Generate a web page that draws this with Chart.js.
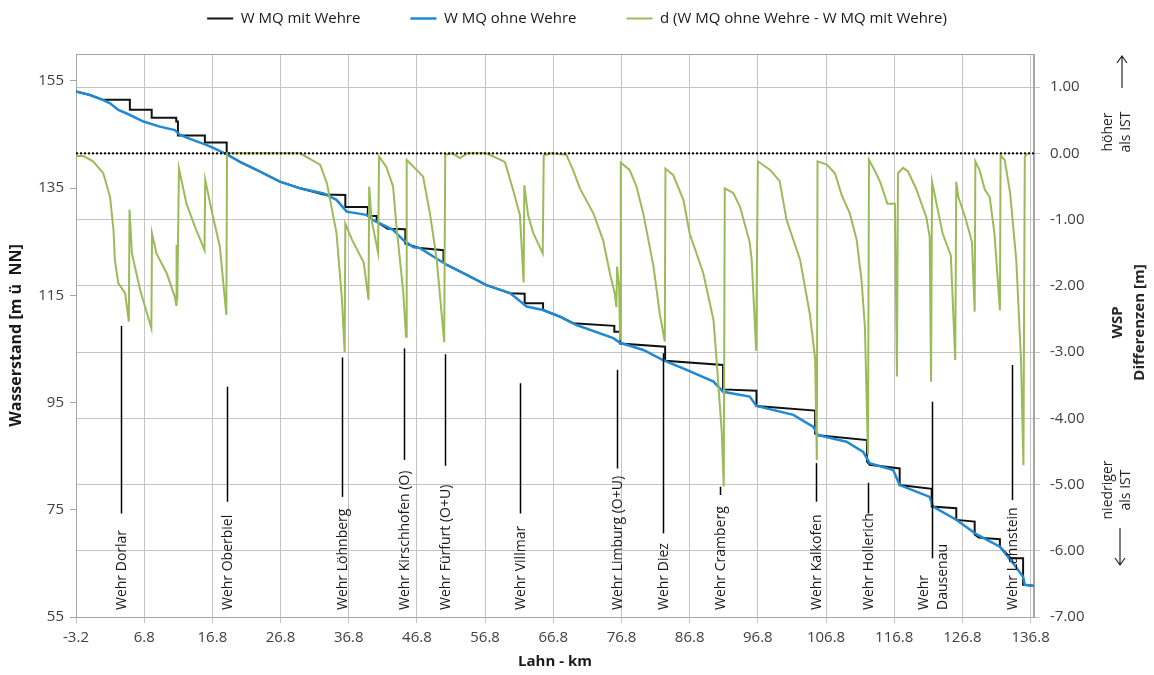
<!DOCTYPE html>
<html>
<head>
<meta charset="utf-8">
<script src="https://cdn.jsdelivr.net/npm/chart.js@4.4.1/dist/chart.umd.min.js"></script>
<style>
  html, body { margin: 0; padding: 0; background: #fff; }
</style>
</head>
<body>
<canvas id="lahnChart" width="1154" height="675"></canvas>
<script>
// Achsen-Ticks
const kmTicks = [-3.2, 6.8, 16.8, 26.8, 36.8, 46.8, 56.8, 66.8, 76.8, 86.8, 96.8, 106.8, 116.8, 126.8, 136.8];
const wspTicks = [55, 75, 95, 115, 135, 155];
const diffTicks = [-7, -6, -5, -4, -3, -2, -1, 0, 1];

// W MQ mit Wehre (Wasserstand m ü NN)
const mitKm = [
  -3.2, -1.15, 0.8, 4.7, 4.7, 7.9, 7.9, 11.5, 11.5, 11.75,
  11.75, 15.7, 15.7, 18.9, 18.9, 20.85, 23.8, 26.7, 29.65, 33.1,
  36.3, 36.3, 39.6, 39.6, 40.9, 40.9, 42.5, 45.1, 45.1, 47.25,
  50.7, 50.7, 51.2, 54.1, 57.0, 60.45, 62.6, 62.6, 65.3, 65.3,
  67.8, 69.7, 75.75, 75.75, 76.6, 76.6, 83.2, 83.2, 91.7, 91.7,
  96.6, 96.6, 105.2, 105.2, 105.65, 112.8, 112.8, 113.2, 117.6, 117.6,
  122.3, 122.3, 125.9, 125.9, 128.6, 128.6, 129.2, 132.3, 132.3, 133.9,
  135.7, 135.7, 137.2
];
const mitWsp = [
  153.0, 152.35, 151.45, 151.45, 149.6, 149.6, 148.1, 148.1, 147.4, 147.4,
  144.8, 144.8, 143.5, 143.5, 141.3, 139.9, 138.05, 136.2, 134.95, 133.8,
  133.7, 131.45, 131.45, 129.85, 129.8, 128.7, 127.4, 127.3, 124.6, 123.8,
  123.4, 121.1, 120.65, 118.8, 116.9, 115.4, 115.3, 113.5, 113.5, 112.25,
  111.0, 109.8, 109.3, 108.2, 108.2, 106.0, 105.4, 102.8, 102.0, 97.45,
  97.2, 94.35, 93.5, 89.2, 88.9, 88.0, 84.0, 83.4, 82.7, 79.6,
  78.9, 75.6, 75.3, 73.1, 72.8, 70.4, 69.8, 69.5, 68.1, 65.95,
  65.95, 61.0, 60.85
];

// W MQ ohne Wehre
const ohneKm = [
  -3.2, -1.15, 0.8, 1.8, 3.0, 4.25, 6.7, 9.1, 11.3, 12.05,
  14.0, 16.0, 17.4, 18.9, 20.85, 23.8, 26.7, 29.65, 33.1, 35.0,
  36.5, 39.4, 40.4, 43.3, 44.8, 46.3, 47.25, 51.2, 54.1, 57.0,
  60.45, 62.9, 65.3, 67.8, 70.2, 75.6, 76.6, 80.0, 82.9, 86.35,
  90.3, 91.7, 95.6, 96.6, 102.0, 104.9, 105.65, 109.8, 112.25, 113.2,
  116.65, 117.6, 122.0, 122.5, 125.95, 128.9, 132.3, 134.25, 135.7, 135.95,
  137.2
];
const ohneWsp = [
  153.0, 152.35, 151.4, 150.8, 149.55, 148.9, 147.4, 146.45, 145.8, 144.9,
  143.95, 143.0, 142.2, 141.3, 139.9, 138.05, 136.2, 134.95, 134.0, 132.8,
  130.6, 130.0, 129.0, 127.2, 125.3, 123.95, 123.8, 120.65, 118.8, 116.9,
  115.4, 112.9, 112.25, 111.0, 109.45, 107.0, 106.15, 104.8, 102.9, 101.1,
  98.9, 97.0, 96.1, 94.35, 92.7, 90.5, 88.9, 87.7, 85.8, 83.7,
  82.4, 79.6, 77.4, 75.6, 73.1, 70.4, 68.1, 65.0, 62.5, 61.0,
  60.85
];

// d (ohne - mit), rechte Achse
const diffKm = [
  -3.2, -2.1, -0.7, 0.8, 1.8, 2.3, 2.5, 3.0, 4.0, 4.55,
  4.65, 5.0, 6.2, 7.85, 7.95, 8.6, 10.1, 11.3, 11.5, 11.55,
  11.65, 11.9, 13.0, 14.25, 15.65, 15.75, 16.9, 17.9, 18.85, 18.95,
  29.7, 30.5, 32.6, 33.6, 35.0, 35.8, 36.2, 36.3, 37.3, 39.0,
  39.7, 39.8, 40.15, 41.1, 41.25, 42.3, 43.3, 43.8, 44.8, 45.2,
  45.3, 46.75, 47.7, 48.7, 49.7, 50.8, 50.95, 52.0, 53.1, 54.2,
  57.0, 59.7, 60.9, 61.9, 62.45, 62.55, 63.1, 63.85, 65.25, 65.4,
  66.5, 68.7, 69.7, 70.7, 72.7, 74.1, 75.1, 75.8, 76.05, 76.15,
  76.45, 76.6, 76.7, 78.0, 79.0, 80.0, 81.5, 82.4, 83.15, 83.25,
  84.4, 85.9, 86.8, 88.8, 90.3, 90.8, 91.5, 91.8, 91.95, 93.2,
  94.2, 95.6, 95.9, 96.55, 96.8, 98.6, 100.0, 101.0, 103.0, 104.4,
  105.2, 105.45, 105.55, 106.9, 108.1, 109.1, 110.3, 111.3, 112.0, 112.5,
  112.95, 113.1, 113.9, 114.8, 115.8, 116.9, 117.2, 117.35, 118.1, 118.8,
  120.0, 121.5, 122.0, 122.2, 122.35, 123.9, 125.1, 125.75, 125.9, 126.2,
  127.2, 128.2, 128.6, 128.7, 129.3, 130.1, 130.8, 131.5, 132.3, 132.4,
  133.0, 133.8, 134.7, 135.4, 135.75, 135.95, 136.3
];
const diffWert = [
  -0.04, -0.04, -0.12, -0.30, -0.66, -1.16, -1.61, -1.96, -2.11, -2.54,
  -0.85, -1.51, -2.06, -2.64, -1.21, -1.51, -1.81, -2.17, -2.29, -1.38,
  -2.22, -0.23, -0.76, -1.11, -1.46, -0.40, -0.96, -1.41, -2.44, 0.00,
  0.00, -0.05, -0.17, -0.45, -1.20, -2.20, -3.00, -1.06, -1.31, -1.65,
  -2.21, -0.50, -1.00, -1.50, -0.05, -0.20, -0.50, -1.10, -2.10, -2.77,
  -0.10, -0.25, -0.35, -0.90, -1.60, -2.85, -0.02, 0.00, -0.07, 0.00,
  0.00, -0.13, -0.55, -0.93, -1.95, -0.48, -0.93, -1.20, -1.51, -0.03,
  0.00, -0.02, -0.25, -0.53, -0.91, -1.31, -1.81, -2.11, -2.32, -1.71,
  -2.01, -2.81, -0.14, -0.25, -0.50, -0.91, -1.71, -2.41, -2.84, -0.23,
  -0.33, -0.71, -1.21, -1.81, -2.52, -3.20, -4.20, -5.03, -0.53, -0.60,
  -0.81, -1.34, -1.61, -2.98, -0.12, -0.25, -0.42, -1.00, -1.61, -2.41,
  -3.10, -4.63, -0.12, -0.17, -0.30, -0.63, -0.91, -1.31, -1.91, -2.62,
  -4.55, -0.10, -0.25, -0.45, -0.76, -0.76, -3.37, -0.30, -0.22, -0.27,
  -0.53, -0.96, -1.26, -3.45, -0.43, -1.21, -1.54, -3.12, -0.43, -0.66,
  -0.96, -1.34, -2.39, -0.12, -0.25, -0.55, -0.66, -1.21, -2.37, -0.03,
  -0.10, -0.60, -1.61, -3.12, -4.71, -0.05, 0.00
];

// Nulllinie der Differenzenachse
const nullKm = [-3.2, 137.3];
const nullWert = [0, 0];

// Wehre: Lage (km), Markierungslinie von/bis (m ü NN)
const wehrNamen = ['Wehr Dorlar', 'Wehr Oberbiel', 'Wehr Löhnberg', 'Wehr Kirschhofen (O)', 'Wehr Fürfurt (O+U)',
  'Wehr Villmar', 'Wehr Limburg (O+U)', 'Wehr Diez', 'Wehr Cramberg', 'Wehr Kalkofen', 'Wehr Hollerich',
  ['Wehr', 'Dausenau'], 'Wehr Lahnstein'];
const wehrKm = [3.35, 19.0, 35.85, 44.9, 50.9, 61.9, 76.1, 82.9, 91.2, 105.4, 113.0, 122.3, 134.1];
const wehrOben = [109.3, 97.95, 103.4, 105.1, 104.0, 98.6, 101.1, 104.2, 79.3, 83.7, 80.05, 95.15, 102.0];
const wehrUnten = [74.3, 76.5, 77.4, 84.3, 83.2, 74.3, 82.7, 70.6, 77.75, 76.5, 74.3, 65.95, 76.8];

const punkte = (xs, ys) => xs.map((x, i) => ({ x: x, y: ys[i] }));

Chart.defaults.font.family = '"Open Sans", sans-serif';
Chart.defaults.color = '#404040';

function textGedreht(ctx, zeilen, cx, cy, font, abstand, align) {
  ctx.save();
  ctx.translate(cx, cy);
  ctx.rotate(-Math.PI / 2);
  ctx.font = font;
  ctx.textAlign = align || 'center';
  ctx.textBaseline = 'middle';
  zeilen.forEach((t, j) => ctx.fillText(t, 0, (j - (zeilen.length - 1) / 2) * abstand));
  ctx.restore();
}

function pfeil(ctx, x, y1, y2) {
  const d = y2 > y1 ? -1 : 1;
  ctx.beginPath();
  ctx.moveTo(x, y1);
  ctx.lineTo(x, y2);
  ctx.moveTo(x - 5, y2 + d * 7);
  ctx.lineTo(x, y2);
  ctx.lineTo(x + 5, y2 + d * 7);
  ctx.stroke();
}

// Legende höher machen, damit die Zeichenfläche bei y=54 beginnt
const legendeHoehe = {
  id: 'legendeHoehe',
  beforeLayout(chart) {
    const lg = chart.legend;
    if (lg && !lg._gepatcht) {
      const fit = lg.fit;
      lg.fit = function () { fit.call(this); this.height = 93; };
      lg._gepatcht = true;
    }
  }
};

const deko = {
  id: 'deko',
  beforeDatasetsDraw(chart) {
    const { ctx, chartArea: a } = chart;
    ctx.save();
    ctx.strokeStyle = '#a6a6a6';
    ctx.lineWidth = 1;
    ctx.strokeRect(a.left + 0.5, a.top + 0.5, a.right - a.left - 1, a.bottom - a.top);
    ctx.restore();
  },
  afterDatasetsDraw(chart) {
    const { ctx, chartArea: a, scales: { x, y } } = chart;
    ctx.save();
    ctx.strokeStyle = '#000';
    ctx.fillStyle = '#1a1a1a';
    ctx.lineWidth = 1.5;
    wehrKm.forEach((km, i) => {
      const px = Math.round(x.getPixelForValue(km)) + 0.5;
      ctx.beginPath();
      ctx.moveTo(px, y.getPixelForValue(wehrOben[i]));
      ctx.lineTo(px, y.getPixelForValue(wehrUnten[i]));
      ctx.stroke();
      textGedreht(ctx, [].concat(wehrNamen[i]), px + 1, a.bottom - 7, '14px "Open Sans"', 19, 'left');
    });

    // rechte Beschriftung
    const rx = a.right;
    ctx.fillStyle = '#262626';
    textGedreht(ctx, ['höher', 'als IST'], rx + 83, a.top + 78, '14px "Open Sans"', 18);
    textGedreht(ctx, ['WSP', 'Differenzen [m]'], rx + 95, (a.top + a.bottom) / 2 - 13, 'bold 15px "Open Sans"', 22);
    textGedreht(ctx, ['niedriger', 'als IST'], rx + 83, a.top + 436, '14px "Open Sans"', 18);
    ctx.strokeStyle = '#262626';
    ctx.lineWidth = 1.2;
    pfeil(ctx, rx + 88, a.top + 34, a.top + 2);
    pfeil(ctx, rx + 86, a.top + 474, a.top + 511);
    ctx.restore();
  }
};

const tickFont = { size: 15 };

new Chart(document.getElementById('lahnChart'), {
  type: 'line',
  data: {
    datasets: [
      {
        label: 'W MQ mit Wehre',
        data: punkte(mitKm, mitWsp),
        yAxisID: 'y',
        borderColor: '#111111',
        backgroundColor: '#111111',
        borderWidth: 2,
        pointRadius: 0,
        tension: 0,
        order: 4
      },
      {
        label: 'W MQ ohne Wehre',
        data: punkte(ohneKm, ohneWsp),
        yAxisID: 'y',
        borderColor: '#1f8ad3',
        backgroundColor: '#1f8ad3',
        borderWidth: 2.5,
        pointRadius: 0,
        tension: 0,
        order: 3
      },
      {
        label: 'd (W MQ ohne Wehre - W MQ mit Wehre)',
        data: punkte(diffKm, diffWert),
        yAxisID: 'y2',
        borderColor: '#9bbb59',
        backgroundColor: '#9bbb59',
        borderWidth: 2,
        pointRadius: 0,
        tension: 0,
        order: 2
      },
      {
        label: 'null',
        data: punkte(nullKm, nullWert),
        yAxisID: 'y2',
        borderColor: '#000',
        borderWidth: 2,
        borderDash: [2, 2],
        pointRadius: 0,
        order: 1
      }
    ]
  },
  options: {
    responsive: false,
    animation: false,
    layout: { padding: { top: -39, left: 0, right: 0, bottom: 0 } },
    plugins: {
      legend: {
        position: 'top',
        labels: {
          usePointStyle: true,
          pointStyle: 'line',
          pointStyleWidth: 26,
          padding: 50,
          color: '#1a1a1a',
          font: { size: 15 },
          filter: item => item.datasetIndex < 3,
          sort: (a, b) => a.datasetIndex - b.datasetIndex
        }
      },
      tooltip: { enabled: false }
    },
    scales: {
      x: {
        type: 'linear',
        min: -3.2,
        max: 137.3,
        afterBuildTicks: s => { s.ticks = kmTicks.map(v => ({ value: v })); },
        afterFit: s => { s.height = 58; },
        ticks: { font: tickFont, maxRotation: 0, autoSkip: false, padding: 6, callback: v => v.toFixed(1) },
        grid: { color: '#c4c4c4', tickLength: 6 },
        border: { color: '#a6a6a6' },
        title: { display: true, text: 'Lahn - km', font: { size: 15, weight: 'bold' }, color: '#1a1a1a', padding: { top: 0, bottom: 4 } }
      },
      y: {
        position: 'left',
        min: 55,
        max: 160,
        afterBuildTicks: s => { s.ticks = wspTicks.map(v => ({ value: v })); },
        afterFit: s => { s.width = 76; },
        ticks: { font: tickFont, padding: 6 },
        grid: { drawOnChartArea: false, tickLength: 6, color: '#a6a6a6' },
        border: { color: '#a6a6a6' },
        title: { display: true, text: 'Wasserstand [m ü  NN]', font: { size: 16, weight: 'bold' }, color: '#1a1a1a', padding: { top: 7, bottom: 0 } }
      },
      y2: {
        position: 'right',
        min: -7,
        max: 1.5,
        afterBuildTicks: s => { s.ticks = diffTicks.map(v => ({ value: v })); },
        afterFit: s => { s.width = 120; },
        ticks: { font: tickFont, padding: 10, callback: v => v.toFixed(2) },
        grid: { color: '#c4c4c4', tickLength: 6 },
        border: { color: '#a6a6a6' }
      }
    }
  },
  plugins: [legendeHoehe, deko]
});
</script>
</body>
</html>
